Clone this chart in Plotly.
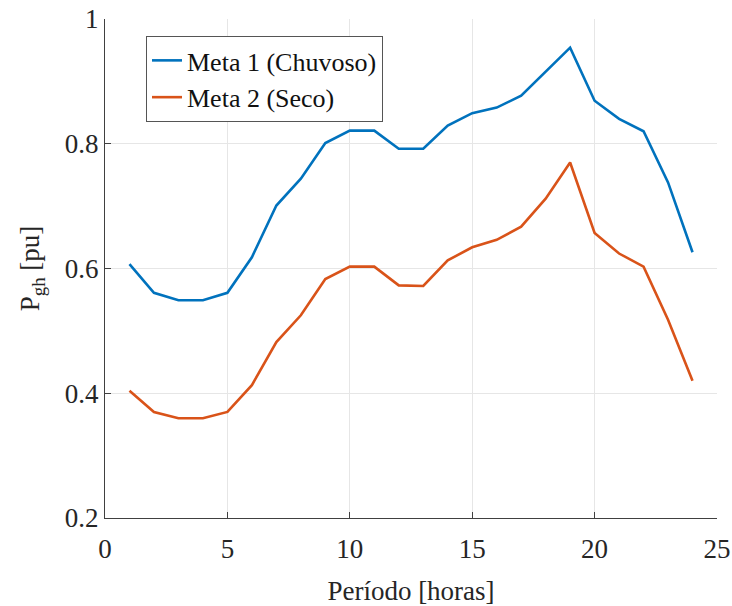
import plotly.graph_objects as go

hours = list(range(1, 25))
meta1 = [0.607, 0.561, 0.549, 0.549, 0.561, 0.618, 0.701, 0.744, 0.801, 0.821, 0.821, 0.792,
         0.792, 0.829, 0.849, 0.858, 0.877, 0.915, 0.954, 0.869, 0.840, 0.820, 0.738, 0.626]
meta2 = [0.404, 0.370, 0.360, 0.360, 0.370, 0.413, 0.482, 0.525, 0.583, 0.603, 0.603, 0.573,
         0.572, 0.613, 0.634, 0.646, 0.667, 0.712, 0.770, 0.657, 0.624, 0.603, 0.518, 0.420]
names = ["Meta 1 (Chuvoso)", "Meta 2 (Seco)"]
colors = ["#0072BD", "#D95319"]
xticks = [0, 5, 10, 15, 20, 25]
yticks = [0.2, 0.4, 0.6, 0.8, 1.0]
ytick_labels = ["0.2", "0.4", "0.6", "0.8", "1"]

font_family = "Liberation Serif, DejaVu Serif, serif"

fig = go.Figure()
for name, vals, col in zip(names, [meta1, meta2], colors):
    fig.add_trace(go.Scatter(x=hours, y=vals, mode="lines", name=name,
                             line=dict(color=col, width=2.6)))

fig.update_layout(
    width=732, height=606,
    margin=dict(l=105, r=15, t=19, b=88, autoexpand=False),
    paper_bgcolor="white", plot_bgcolor="white",
    font=dict(family=font_family, size=26, color="#262626"),
    legend=dict(x=0.067, y=0.966, xanchor="left", yanchor="top",
                bgcolor="white", bordercolor="#555555", borderwidth=1,
                font=dict(size=26, color="#111111"),
                tracegroupgap=0, itemwidth=30),
    showlegend=True,
)
fig.update_xaxes(
    range=[0, 25], tickvals=xticks, ticktext=[str(v) for v in xticks],
    showgrid=True, gridcolor="#e6e6e6", gridwidth=1,
    showline=True, linecolor="#404040", linewidth=1,
    ticks="inside", ticklen=6, tickcolor="#404040",
    tickfont=dict(size=27), zeroline=False, automargin=False,
    ticklabelstandoff=7,
    title=dict(text="Período [horas]", font=dict(size=27), standoff=18),
)
fig.update_yaxes(
    range=[0.2, 1.0], tickvals=yticks, ticktext=ytick_labels,
    showgrid=True, gridcolor="#e6e6e6", gridwidth=1,
    showline=True, linecolor="#404040", linewidth=1,
    ticks="inside", ticklen=6, tickcolor="#404040",
    tickfont=dict(size=27), zeroline=False, automargin=False,
    title=dict(text="P<sub>gh</sub> [pu]", font=dict(size=27), standoff=17),
)

fig.write_html("out.html", config={"displayModeBar": False},
               post_script="document.body.style.margin='0';document.body.style.padding='0';")
